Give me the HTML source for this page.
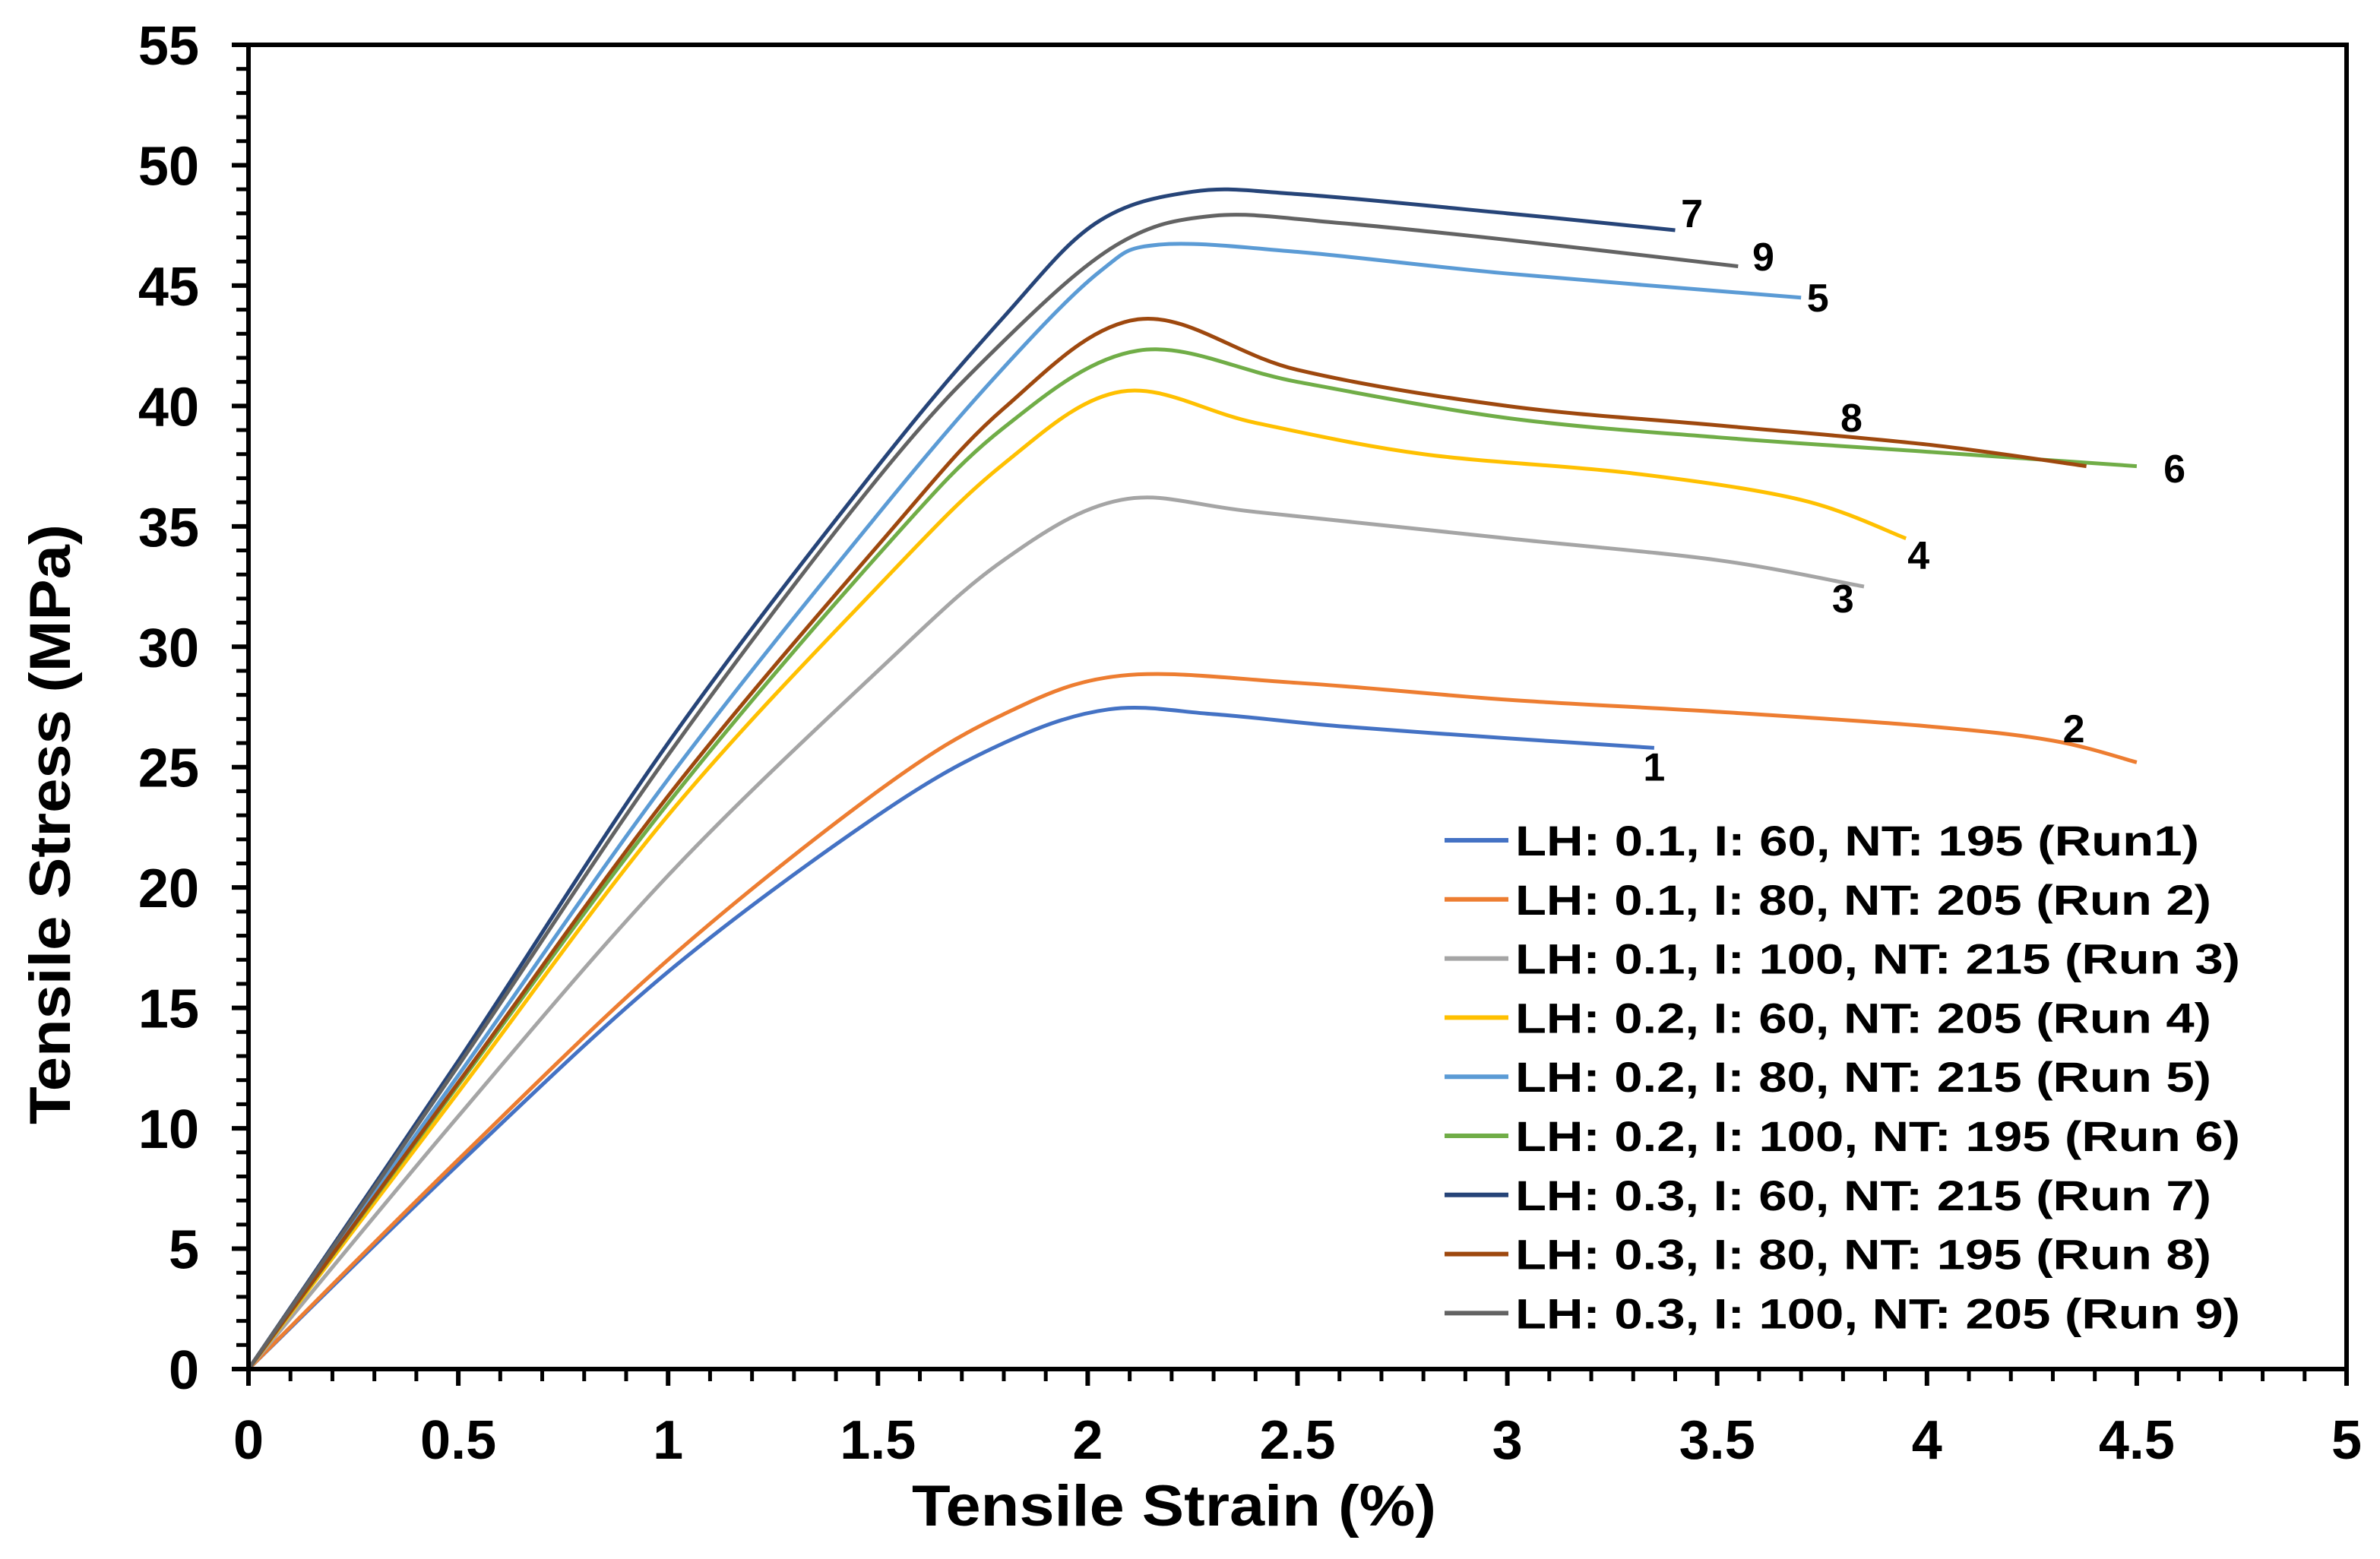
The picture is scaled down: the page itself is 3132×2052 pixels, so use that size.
<!DOCTYPE html>
<html><head><meta charset="utf-8"><style>
html,body{margin:0;padding:0;background:#fff;}
svg{display:block;font-family:"Liberation Sans",Arial,sans-serif;font-weight:bold;}
</style></head><body>
<svg id="chart" width="3132" height="2052" viewBox="0 0 3132 2052" xmlns="http://www.w3.org/2000/svg">
<rect width="3132" height="2052" fill="#fff"/>
<g id="grid"></g><g id="series"></g><g id="axes"></g><g id="labels"></g><g id="legend"></g>
<text x="1545" y="2008" text-anchor="middle" font-size="76" textLength="690" lengthAdjust="spacingAndGlyphs">Tensile Strain (%)</text>
<text x="0" y="0" transform="translate(92,1085) rotate(-90)" text-anchor="middle" font-size="76" textLength="790" lengthAdjust="spacingAndGlyphs">Tensile Stress (MPa)</text>
</svg>
<script>
const xTicks=[0,0.5,1,1.5,2,2.5,3,3.5,4,4.5,5];
const xTickLabels=["0","0.5","1","1.5","2","2.5","3","3.5","4","4.5","5"];
const yTicks=[0,5,10,15,20,25,30,35,40,45,50,55];
const yTickLabels=["0","5","10","15","20","25","30","35","40","45","50","55"];
const seriesNames=["LH: 0.1, I: 60, NT: 195 (Run1)","LH: 0.1, I: 80, NT: 205 (Run 2)","LH: 0.1, I: 100, NT: 215 (Run 3)","LH: 0.2, I: 60, NT: 205 (Run 4)","LH: 0.2, I: 80, NT: 215 (Run 5)","LH: 0.2, I: 100, NT: 195 (Run 6)","LH: 0.3, I: 60, NT: 215 (Run 7)","LH: 0.3, I: 80, NT: 195 (Run 8)","LH: 0.3, I: 100, NT: 205 (Run 9)"];
const run1X=[0,0.5,1,1.5,1.8,2.05,2.3,2.6,3,3.35];
const run1Y=[0,8.5,16.5,23,26,27.4,27.2,26.7,26.2,25.8];
const run2X=[0,0.5,1,1.5,1.8,2.08,2.5,3,3.5,4,4.3,4.5];
const run2Y=[0,8.7,17,24,27.2,28.8,28.5,27.8,27.3,26.7,26.1,25.2];
const run3X=[0,0.5,1,1.5,1.8,2.08,2.4,3,3.5,3.85];
const run3Y=[0,10.5,20.5,29,33.6,36.1,35.6,34.5,33.6,32.5];
const run4X=[0,0.5,1,1.5,1.8,2.08,2.4,2.8,3.3,3.7,3.95];
const run4Y=[0,11.5,23,32.5,37.6,40.6,39.3,38,37.2,36.1,34.5];
const run5X=[0,0.5,1,1.5,1.8,2.03,2.17,2.5,3,3.7];
const run5Y=[0,12.2,24.5,35.5,41.6,45.6,46.7,46.4,45.5,44.5];
const run6X=[0,0.5,1,1.5,1.8,2.12,2.5,3,3.5,4,4.5];
const run6Y=[0,11.8,23.5,33.8,39.1,42.3,41,39.5,38.7,38.1,37.5];
const run7X=[0,0.5,1,1.5,1.8,2.02,2.25,2.5,3,3.4];
const run7Y=[0,12.8,26,37.5,43.7,47.6,48.9,48.8,48,47.3];
const run8X=[0,0.5,1,1.5,1.8,2.12,2.5,3,3.5,4,4.38];
const run8Y=[0,11.9,23.8,34.2,39.9,43.6,41.5,40,39.2,38.4,37.5];
const run9X=[0,0.5,1,1.5,1.8,2.07,2.3,2.6,3,3.55];
const run9Y=[0,12.6,25.5,37,42.7,46.7,47.9,47.6,46.9,45.8];
const endLabels=["1","2","3","4","5","6","7","8","9"];
const endLabelX=[3.35,4.35,3.8,3.98,3.74,4.59,3.44,3.82,3.61];
const endLabelY=[25.0,26.6,32.0,33.8,44.5,37.4,48.0,39.5,46.2];

const colors=["#4472C4","#ED7D31","#A5A5A5","#FFC000","#5B9BD5","#70AD47","#264478","#9E480E","#636363"];
const X0=327,X1=3088,Y0=1802,Y1=59;
const sx=v=>X0+(v-0)/(5-0)*(X1-X0);
const sy=v=>Y0-(v-0)/(55-0)*(Y0-Y1);
const NS="http://www.w3.org/2000/svg";
function mk(tag,attrs,parent){const e=document.createElementNS(NS,tag);for(const k in attrs)e.setAttribute(k,attrs[k]);parent.appendChild(e);return e;}
const axes=document.getElementById('axes');
const frame=mk('path',{d:`M${sx(0)},${sy(0)} V${sy(55)} H${sx(5)} V${sy(0)} Z`,fill:'none',stroke:'#000','stroke-width':6},axes);


for(let i=0;i<=50;i++){const v=i*0.1;const major=i%5===0;
 const t=mk('line',{x1:sx(v),x2:sx(v),y1:Y0,y2:Y0+(major?22:16),stroke:'#000','stroke-width':major?6:5},axes);
 
 }
for(let i=0;i<=55;i++){const major=i%5===0;
 const t=mk('line',{x1:X0-(major?22:16),x2:X0,y1:sy(i),y2:sy(i),stroke:'#000','stroke-width':major?6:5},axes);
 
 }
xTicks.forEach((v,i)=>{const t=mk('text',{x:sx(v),y:1920,'text-anchor':'middle','font-size':72},axes);t.textContent=xTickLabels[i];
 
 });
yTicks.forEach((v,i)=>{const t=mk('text',{x:262,y:sy(v)+26,'text-anchor':'end','font-size':72},axes);t.textContent=yTickLabels[i];
 
 });
function smooth(xs,ys){const p=xs.map((x,i)=>[sx(x),sy(ys[i])]);let d=`M${p[0][0]},${p[0][1]}`;
 for(let i=0;i<p.length-1;i++){const a=p[Math.max(0,i-1)],b=p[i],c=p[i+1],e=p[Math.min(p.length-1,i+2)];
  const c1=[b[0]+(c[0]-a[0])/6,b[1]+(c[1]-a[1])/6],c2=[c[0]-(e[0]-b[0])/6,c[1]-(e[1]-b[1])/6];
  d+=` C${c1[0]},${c1[1]} ${c2[0]},${c2[1]} ${c[0]},${c[1]}`;}return d;}
const allX=[run1X,run2X,run3X,run4X,run5X,run6X,run7X,run8X,run9X];
const allY=[run1Y,run2Y,run3Y,run4Y,run5Y,run6Y,run7Y,run8Y,run9Y];
const sg=document.getElementById('series');
allX.forEach((xs,i)=>{const p=mk('path',{d:smooth(xs,allY[i]),fill:'none',stroke:colors[i],'stroke-width':5,'stroke-linejoin':'round'},sg);
 
 });
const lg=document.getElementById('labels');
endLabels.forEach((s,i)=>{const t=mk('text',{x:sx(endLabelX[i]),y:sy(endLabelY[i])+18,'text-anchor':'middle','font-size':52},lg);t.textContent=s;
 
 });
const leg=document.getElementById('legend');
const legEnds=[1448,1456,1475,1456,1456,1475,1456,1456,1475];
seriesNames.forEach((n,i)=>{const y=1106+i*77.8;
 const l=mk('line',{x1:1901,x2:1985,y1:y,y2:y,stroke:colors[i],'stroke-width':6},leg);
 
 
 const t=mk('text',{x:1994,y:y+20,'font-size':56,textLength:(legEnds[i]-998)*2,lengthAdjust:'spacingAndGlyphs'},leg);t.textContent=n;
 
 });
</script>
</body></html>
